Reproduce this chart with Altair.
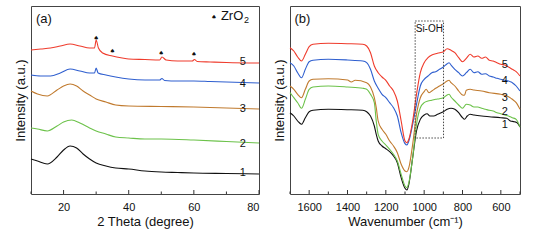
import altair as alt
import pandas as pd

# ---------------- Panel (a): XRD ----------------
xrd_x1 = [10, 12, 15, 18, 20, 22, 24, 26, 28, 30, 33, 36, 40, 45, 50, 55, 60, 70, 80]
xrd_y1 = [35, 33, 30, 37, 44, 48, 46, 40, 35, 31, 28, 26, 25, 23, 22, 21.5, 21, 20.5, 20]
xrd_x2 = [10, 12, 15, 18, 20, 22.5, 25, 28, 30, 33, 36, 40, 45, 50, 60, 70, 80]
xrd_y2 = [66, 65, 63, 68, 72, 74, 71, 66, 63, 60, 57, 56, 55, 55, 54, 52.5, 51]
xrd_x3 = [10, 12, 15, 18, 20, 22, 24, 26, 28, 30, 33, 36, 40, 50, 60, 70, 80]
xrd_y3 = [103, 100, 98, 104, 108, 110, 108, 103, 99, 95, 92, 89, 88, 87.5, 87, 86, 85]
xrd_x4 = [10, 13, 16, 19, 22, 25, 28, 29.5, 30, 30.6, 33, 36, 40, 45, 49.5, 50.2, 51, 55, 60, 65, 70, 80]
xrd_y4 = [119, 118, 118, 121, 125, 123, 121, 121, 126, 121, 119, 117, 115, 114, 114, 115.5, 113.5, 113, 113, 112.5, 112, 111]
xrd_x5 = [10, 13, 16, 19, 22, 25, 28, 29.5, 30, 30.7, 32, 35, 38, 40, 45, 49.5, 50.2, 51.5, 55, 59.5, 60.2, 61, 65, 70, 80]
xrd_y5 = [144, 145, 146, 148, 150, 148, 146, 146, 154, 146, 141, 138, 136, 135, 134.5, 134, 137, 134, 133, 133, 134.5, 132.5, 132, 131.5, 131]

zro2_x = [30, 35, 50, 60]
zro2_y = [156, 143, 141, 140]

xrd_lbl_x = [75, 75, 75, 75, 75]
xrd_lbl_y = [21, 50, 85, 110, 132]

# ---------------- Panel (b): FTIR ----------------
ir_x5 = [1700, 1680, 1660, 1640, 1620, 1600, 1580, 1500, 1400, 1320, 1300, 1280, 1260, 1240, 1220, 1200, 1180, 1160, 1140, 1120, 1100, 1090, 1080, 1060, 1040, 1020, 1000, 980, 960, 940, 920, 900, 880, 860, 840, 820, 800, 780, 760, 740, 720, 700, 680, 660, 640, 620, 600, 580, 560, 540, 520, 500]
ir_y5 = [146.3, 143, 137, 133, 139.7, 147.3, 149.7, 150.7, 150.3, 149.7, 148, 141.3, 128, 121.3, 117, 113.7, 108, 103, 93, 73, 53, 51.3, 54.7, 73, 99.7, 121.3, 131.3, 136.3, 139, 140.3, 141.3, 142.3, 145.3, 143.7, 141.3, 136.3, 132.3, 135.7, 139.7, 137, 138, 135.7, 137, 133.7, 133, 131.3, 129.7, 129, 127, 124.7, 122.3, 118]
ir_x4 = [1700, 1680, 1660, 1640, 1620, 1600, 1580, 1500, 1400, 1320, 1300, 1280, 1260, 1240, 1220, 1200, 1180, 1160, 1140, 1120, 1100, 1090, 1080, 1060, 1040, 1020, 1000, 980, 960, 940, 920, 900, 880, 870, 860, 840, 820, 800, 780, 760, 740, 720, 700, 680, 660, 640, 620, 600, 580, 560, 540, 520, 500]
ir_y4 = [131.3, 128, 121.3, 116.3, 124.7, 132.3, 133.7, 134.7, 134, 133, 131.3, 124.7, 113, 105.7, 99.7, 96.3, 91.3, 86.3, 78, 61.3, 50.3, 49, 53, 69.7, 89.7, 108, 114.7, 118, 121.3, 122.3, 124.7, 127, 130.3, 131.3, 129, 124.7, 121.3, 118, 121.3, 124.7, 121.3, 122.3, 119.7, 120.3, 118, 117, 115.7, 114.7, 113.7, 113, 111.3, 108, 103]
ir_x3 = [1700, 1680, 1660, 1640, 1620, 1600, 1580, 1500, 1400, 1380, 1360, 1300, 1280, 1260, 1250, 1240, 1220, 1200, 1180, 1160, 1140, 1120, 1100, 1090, 1080, 1060, 1040, 1020, 1000, 990, 975, 960, 940, 920, 900, 880, 870, 860, 840, 820, 800, 790, 780, 760, 740, 700, 660, 600, 560, 540, 520, 500]
ir_y3 = [108, 104.7, 99.7, 96.3, 104.7, 113, 114.7, 115.3, 114, 112, 113.7, 111.3, 107, 96.3, 86.3, 73, 64.7, 59.7, 53, 48, 41.3, 29.7, 23, 22.3, 26.3, 49.7, 79.7, 96.3, 102.3, 104.7, 101.3, 103, 105.7, 108, 110.3, 113, 113.7, 111.3, 108, 103, 99, 98.7, 103.7, 104.7, 104, 103, 101.3, 99.7, 97.3, 94.7, 91.3, 84.7]
ir_x2 = [1700, 1680, 1660, 1640, 1620, 1600, 1580, 1500, 1400, 1320, 1300, 1280, 1260, 1250, 1240, 1220, 1200, 1180, 1160, 1140, 1120, 1100, 1090, 1080, 1060, 1040, 1020, 1000, 980, 960, 940, 920, 900, 880, 870, 860, 840, 820, 800, 780, 760, 740, 720, 700, 680, 660, 640, 620, 600, 580, 560, 540, 520, 500]
ir_y2 = [101.3, 96.3, 91.3, 85.7, 94.7, 104.7, 107, 108, 107, 105.7, 104.7, 99.7, 91.3, 73, 59.7, 53, 49, 44.7, 39.7, 33, 19.7, 8, 6.3, 11.3, 36.3, 69.7, 86.3, 91.3, 93, 93.7, 94.7, 95.3, 96.3, 99, 99.7, 97, 93, 89, 85.7, 89.7, 89, 87, 87, 85.7, 84.7, 83.7, 83, 81.3, 80.3, 79, 78, 76.3, 74.7, 67]
ir_x1 = [1700, 1680, 1660, 1640, 1620, 1600, 1580, 1500, 1400, 1320, 1300, 1280, 1260, 1250, 1240, 1220, 1200, 1180, 1160, 1140, 1120, 1100, 1090, 1080, 1060, 1040, 1020, 1000, 985, 970, 950, 930, 900, 880, 860, 840, 820, 800, 790, 775, 760, 740, 700, 660, 600, 570, 550, 530, 515, 500]
ir_y1 = [81.3, 78, 73, 69.7, 76.3, 82.3, 83.7, 84.7, 84.3, 83.7, 82.3, 78, 68, 59.7, 53, 48, 45.3, 42.3, 38, 31.3, 16.3, 5.7, 4, 9.7, 36.3, 63, 74.7, 79, 80.3, 78, 78, 79.7, 82.3, 84.7, 85.7, 84.7, 81.3, 76.3, 74.7, 78, 79.7, 79, 78, 77.3, 76.3, 75.7, 73, 72.3, 71.3, 67]

ir_lbl_x = [579, 579, 579, 579, 579]
ir_lbl_y = [69, 82, 96, 113, 129]

box_x = [1047, 899]
box_y = [56, 173]

series_names = ["1", "2", "3", "4", "5"]
colors = ["#111111", "#6cc24a", "#c07a2e", "#2f5fcf", "#ef3b2c"]

xa_ticks_major = [20, 40, 60, 80]
xa_ticks_minor = [10, 30, 50, 70]
xb_ticks_major = [1600, 1400, 1200, 1000, 800, 600]
xb_ticks_minor = [1700, 1500, 1300, 1100, 900, 700, 500]

FONT = "Liberation Sans"
W_A, W_B, H = 228, 230, 188


def long_df(xs, ys):
    rows = []
    for name, xx, yy in zip(series_names, xs, ys):
        for i, (a, b) in enumerate(zip(xx, yy)):
            rows.append({"x": a, "y": b, "s": name, "o": i})
    return pd.DataFrame(rows)


color_scale = alt.Scale(domain=series_names, range=colors)

# ---------- panel a ----------
xa_scale = alt.Scale(domain=[10, 80], nice=False)
ya_scale = alt.Scale(domain=[0, 188], nice=False)
df_a = long_df([xrd_x1, xrd_x2, xrd_x3, xrd_x4, xrd_x5], [xrd_y1, xrd_y2, xrd_y3, xrd_y4, xrd_y5])

x_axis_a = alt.Axis(title="2 Theta (degree)", values=xa_ticks_major, ticks=False, domain=False,
                    grid=False, labelPadding=7, titlePadding=3, format="d")
y_axis = alt.Axis(title="Intensity (a.u.)", labels=False, ticks=False, domain=False, grid=False,
                  titlePadding=4)

lines_a = alt.Chart(df_a).mark_line(strokeWidth=1.1, interpolate="monotone").encode(
    x=alt.X("x:Q", scale=xa_scale, axis=x_axis_a),
    y=alt.Y("y:Q", scale=ya_scale, axis=y_axis),
    color=alt.Color("s:N", scale=color_scale, legend=None),
    order="o:Q",
    detail="s:N",
)

stars = alt.Chart(pd.DataFrame({"x": zro2_x, "y": zro2_y})).mark_text(
    text="♠", fontSize=6, color="#111111", font="DejaVu Sans"
).encode(x=alt.X("x:Q", scale=xa_scale), y=alt.Y("y:Q", scale=ya_scale))

legend_star = alt.Chart(pd.DataFrame({"x": [66.2], "y": [177]})).mark_text(
    text="♠", fontSize=6, color="#111111", font="DejaVu Sans"
).encode(x=alt.X("x:Q", scale=xa_scale), y=alt.Y("y:Q", scale=ya_scale))

legend_txt = alt.Chart(pd.DataFrame({"x": [68.3], "y": [178], "t": ["ZrO"]})).mark_text(
    align="left", baseline="middle", fontSize=13, font=FONT, color="#111111"
).encode(x=alt.X("x:Q", scale=xa_scale), y=alt.Y("y:Q", scale=ya_scale), text="t:N")

legend_sub = alt.Chart(pd.DataFrame({"x": [68.3], "y": [174], "t": ["2"]})).mark_text(
    align="left", baseline="middle", fontSize=9, font=FONT, color="#111111", dx=23
).encode(x=alt.X("x:Q", scale=xa_scale), y=alt.Y("y:Q", scale=ya_scale), text="t:N")

lbl_a = alt.Chart(pd.DataFrame({"x": xrd_lbl_x, "y": xrd_lbl_y, "t": series_names})).mark_text(
    align="center", baseline="middle", fontSize=11, font=FONT, color="#111111"
).encode(x=alt.X("x:Q", scale=xa_scale), y=alt.Y("y:Q", scale=ya_scale), text="t:N")

title_a = alt.Chart(pd.DataFrame({"x": [11.5], "y": [175], "t": ["(a)"]})).mark_text(
    align="left", baseline="middle", fontSize=13, font=FONT, color="#111111"
).encode(x=alt.X("x:Q", scale=xa_scale), y=alt.Y("y:Q", scale=ya_scale), text="t:N")

ticks_a_major = alt.Chart(pd.DataFrame({"x": xa_ticks_major})).mark_rule(color="#333333", strokeWidth=1).encode(
    x=alt.X("x:Q", scale=xa_scale), y=alt.value(H), y2=alt.value(H - 4))
ticks_a_minor = alt.Chart(pd.DataFrame({"x": xa_ticks_minor})).mark_rule(color="#333333", strokeWidth=1).encode(
    x=alt.X("x:Q", scale=xa_scale), y=alt.value(H), y2=alt.value(H - 2.5))

panel_a = alt.layer(lines_a, stars, legend_star, legend_txt, legend_sub, lbl_a, title_a,
                    ticks_a_major, ticks_a_minor).properties(width=W_A, height=H)

# ---------- panel b ----------
xb_scale = alt.Scale(domain=[1700, 500], nice=False)
yb_scale = alt.Scale(domain=[0, 188], nice=False)
df_b = long_df([ir_x1, ir_x2, ir_x3, ir_x4, ir_x5], [ir_y1, ir_y2, ir_y3, ir_y4, ir_y5])

x_axis_b = alt.Axis(title="Wavenumber (cm⁻¹)", values=xb_ticks_major, ticks=False, domain=False,
                    grid=False, labelPadding=7, titlePadding=3, format="d")

lines_b = alt.Chart(df_b).mark_line(strokeWidth=1.1, interpolate="monotone").encode(
    x=alt.X("x:Q", scale=xb_scale, axis=x_axis_b),
    y=alt.Y("y:Q", scale=yb_scale, axis=y_axis),
    color=alt.Color("s:N", scale=color_scale, legend=None),
    order="o:Q",
    detail="s:N",
)

box = alt.Chart(pd.DataFrame({"x": [box_x[0]], "x2": [box_x[1]], "y": [box_y[0]], "y2": [box_y[1]]})).mark_rect(
    fill=None, stroke="#333333", strokeWidth=0.9, strokeDash=[1.5, 1.5]
).encode(x=alt.X("x:Q", scale=xb_scale), x2="x2:Q", y=alt.Y("y:Q", scale=yb_scale), y2="y2:Q")

siOH = alt.Chart(pd.DataFrame({"x": [973], "y": [165], "t": ["Si-OH"]})).mark_text(
    align="center", baseline="middle", fontSize=10, font=FONT, color="#111111"
).encode(x=alt.X("x:Q", scale=xb_scale), y=alt.Y("y:Q", scale=yb_scale), text="t:N")

lbl_b = alt.Chart(pd.DataFrame({"x": ir_lbl_x, "y": ir_lbl_y, "t": series_names})).mark_text(
    align="center", baseline="middle", fontSize=11, font=FONT, color="#111111"
).encode(x=alt.X("x:Q", scale=xb_scale), y=alt.Y("y:Q", scale=yb_scale), text="t:N")

title_b = alt.Chart(pd.DataFrame({"x": [1677], "y": [175], "t": ["(b)"]})).mark_text(
    align="left", baseline="middle", fontSize=13, font=FONT, color="#111111"
).encode(x=alt.X("x:Q", scale=xb_scale), y=alt.Y("y:Q", scale=yb_scale), text="t:N")

ticks_b_major = alt.Chart(pd.DataFrame({"x": xb_ticks_major})).mark_rule(color="#333333", strokeWidth=1).encode(
    x=alt.X("x:Q", scale=xb_scale), y=alt.value(H), y2=alt.value(H - 4))
ticks_b_minor = alt.Chart(pd.DataFrame({"x": xb_ticks_minor})).mark_rule(color="#333333", strokeWidth=1).encode(
    x=alt.X("x:Q", scale=xb_scale), y=alt.value(H), y2=alt.value(H - 2.5))

panel_b = alt.layer(lines_b, box, siOH, lbl_b, title_b,
                    ticks_b_major, ticks_b_minor).properties(width=W_B, height=H)

chart = alt.hconcat(panel_a, panel_b, spacing=10).properties(
    padding={"left": 13, "top": 5, "right": 0, "bottom": 0},
    background="white",
).configure_view(
    stroke="#444444", strokeWidth=1
).configure_axis(
    labelFont=FONT, titleFont=FONT, labelFontSize=11, titleFontSize=13,
    labelColor="#111111", titleColor="#111111", titleFontWeight="normal"
)

chart.save("out.html", embed_options={"renderer": "svg", "actions": False})
